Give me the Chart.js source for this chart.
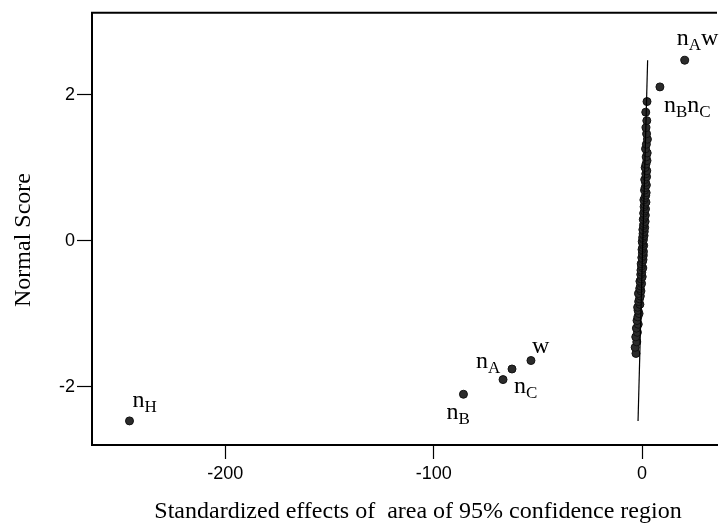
<!DOCTYPE html>
<html>
<head>
<meta charset="utf-8">
<script src="https://cdn.jsdelivr.net/npm/chart.js@4"></script>
<style>
  html, body { margin: 0; padding: 0; background: #fff; }
</style>
</head>
<body>
<canvas id="normPlot" width="722" height="527"></canvas>
<script>
// graphe de probabilité normale des effets standardisés

// effets du nuage central (du bas vers le haut)
const clusterEffects = [
  -2.9, -3.3, -2.5, -3.0, -2.2, -2.7, -1.8, -2.4, -2.0, -1.4, -1.9, -2.1, -1.0, -1.6,
  -1.2, -0.8, -1.7, -0.5, -1.1, -0.7, -0.2, -1.0, -0.4, 0.1, -0.6, -0.1, -0.5, 0.4,
  -0.2, -0.4, 0.2, 0.5, -0.1, 0.6, 0.2, 0.7, 0.0, 0.3, 0.8, 0.4, 0.1,
  0.7, 0.3, 1.0, 0.5, 1.1, 0.4, 1.3, 0.7, 1.0, 1.5, 0.6, 1.1, 1.6, 0.8, 1.2, 1.7,
  1.0, 1.3, 1.9, 0.9, 1.4, 1.8, 2.0, 1.2, 1.5, 2.1, 1.7, 1.3, 2.2, 1.8, 2.3, 1.5,
  1.9, 2.4, 2.0, 2.5, 1.7, 2.1, 2.6, 2.2, 1.9, 2.3, 1.8, 2.4
];
const clusterScores = [
  -1.546, -1.463, -1.388, -1.319, -1.257, -1.200, -1.146, -1.095, -1.046, -1.000,
  -0.956, -0.914, -0.874, -0.835, -0.797, -0.760, -0.725, -0.690, -0.656, -0.622,
  -0.589, -0.557, -0.526, -0.495, -0.464, -0.434, -0.405, -0.375, -0.347, -0.318,
  -0.290, -0.261, -0.233, -0.206, -0.178, -0.150, -0.123, -0.095, -0.068, -0.041, -0.014,
  0.014, 0.041, 0.068, 0.095, 0.123, 0.150, 0.178, 0.206, 0.233, 0.261, 0.290,
  0.318, 0.347, 0.375, 0.405, 0.434, 0.464, 0.495, 0.526, 0.557, 0.589, 0.622,
  0.656, 0.690, 0.725, 0.760, 0.797, 0.835, 0.874, 0.914, 0.956, 1.000, 1.046,
  1.095, 1.146, 1.200, 1.257, 1.319, 1.388, 1.463, 1.546, 1.643, 1.759, 1.904
];

// effets significatifs, avec leurs étiquettes
const namedEffects = [-246, -85.7, -66.7, -62.4, -53.3, 8.6, 20.5];
const namedScores = [-2.47, -2.105, -1.904, -1.759, -1.643, 2.105, 2.47];
const namedLabels = ['n_H', 'n_B', 'n_A', 'n_C', 'w', 'n_Bn_C', 'n_Aw'];

// droite de référence
const refLineEffects = [-1.9, 2.7];
const refLineScores = [-2.47, 2.47];

const xTicks = [-200, -100, 0];
const yTicks = [-2, 0, 2];

// décalage des étiquettes par rapport au point (px)
const labelOffsets = [[3, -14], [-17, 25], [-27, -12], [2, 24], [1, -8], [4, 25], [-8, -15]];

const SERIF = '"Liberation Serif", "Times New Roman", serif';
const SANS = '"Liberation Sans", Arial, sans-serif';

const toPoints = (xs, ys) => xs.map((v, i) => ({ x: v, y: ys[i] }));

const labelPlugin = {
  id: 'effectLabels',
  afterDatasetsDraw(chart) {
    const { ctx, chartArea, scales } = chart;
    ctx.save();
    // cadre du haut
    ctx.strokeStyle = '#000';
    ctx.lineWidth = 2;
    ctx.beginPath();
    ctx.moveTo(chartArea.left - 1, chartArea.top);
    ctx.lineTo(chartArea.right, chartArea.top);
    ctx.stroke();

    ctx.fillStyle = '#000';
    ctx.textBaseline = 'alphabetic';
    ctx.textAlign = 'left';
    namedLabels.forEach((lab, i) => {
      let px = scales.x.getPixelForValue(namedEffects[i]) + labelOffsets[i][0];
      const py = scales.y.getPixelForValue(namedScores[i]) + labelOffsets[i][1];
      lab.split(/(_[A-Z])/).filter(s => s).forEach(part => {
        const sub = part[0] === '_';
        const txt = sub ? part.slice(1) : part;
        ctx.font = (sub ? '17px ' : '24px ') + SERIF;
        ctx.fillText(txt, px, sub ? py + 5 : py);
        px += ctx.measureText(txt).width;
      });
    });

    // titres des axes
    ctx.font = '24px ' + SERIF;
    ctx.textAlign = 'center';
    ctx.textBaseline = 'middle';
    ctx.fillText('Standardized effects of  area of 95% confidence region', 418, 512);
    ctx.translate(24, 240);
    ctx.rotate(-Math.PI / 2);
    ctx.fillText('Normal Score', 0, 0);
    ctx.restore();
  }
};

const ctx = document.getElementById('normPlot').getContext('2d');
new Chart(ctx, {
  type: 'scatter',
  data: {
    datasets: [
      {
        type: 'line',
        data: toPoints(refLineEffects, refLineScores),
        borderColor: '#000',
        borderWidth: 1.2,
        pointRadius: 0,
        fill: false
      },
      {
        data: toPoints(clusterEffects, clusterScores),
        backgroundColor: '#2b2b2b',
        borderColor: '#111',
        borderWidth: 1,
        pointRadius: 4
      },
      {
        data: toPoints(namedEffects, namedScores),
        backgroundColor: '#2b2b2b',
        borderColor: '#111',
        borderWidth: 1,
        pointRadius: 4
      }
    ]
  },
  options: {
    responsive: false,
    animation: false,
    devicePixelRatio: 1,
    layout: { padding: { left: 0, top: 10, right: 0, bottom: 0 } },
    plugins: { legend: { display: false }, tooltip: { enabled: false } },
    scales: {
      x: {
        type: 'linear', min: -264, max: 36,
        afterFit: s => { s.height = 82; },
        afterBuildTicks: s => { s.ticks = xTicks.map(v => ({ value: v })); },
        grid: { drawOnChartArea: false, drawTicks: true, tickLength: 14, color: '#000', tickWidth: 1.2 },
        border: { display: true, color: '#000', width: 2 },
        ticks: { color: '#000', font: { family: SANS, size: 18 }, padding: 4, maxRotation: 0 },
        title: { display: false }
      },
      y: {
        type: 'linear', min: -2.8, max: 3.12,
        afterFit: s => { s.width = 92; },
        afterBuildTicks: s => { s.ticks = yTicks.map(v => ({ value: v })); },
        grid: { drawOnChartArea: false, drawTicks: true, tickLength: 15, color: '#000', tickWidth: 1.2 },
        border: { display: true, color: '#000', width: 2 },
        ticks: { color: '#000', font: { family: SANS, size: 18 }, padding: 2 },
        title: { display: false }
      }
    }
  },
  plugins: [labelPlugin]
});
</script>
</body>
</html>
